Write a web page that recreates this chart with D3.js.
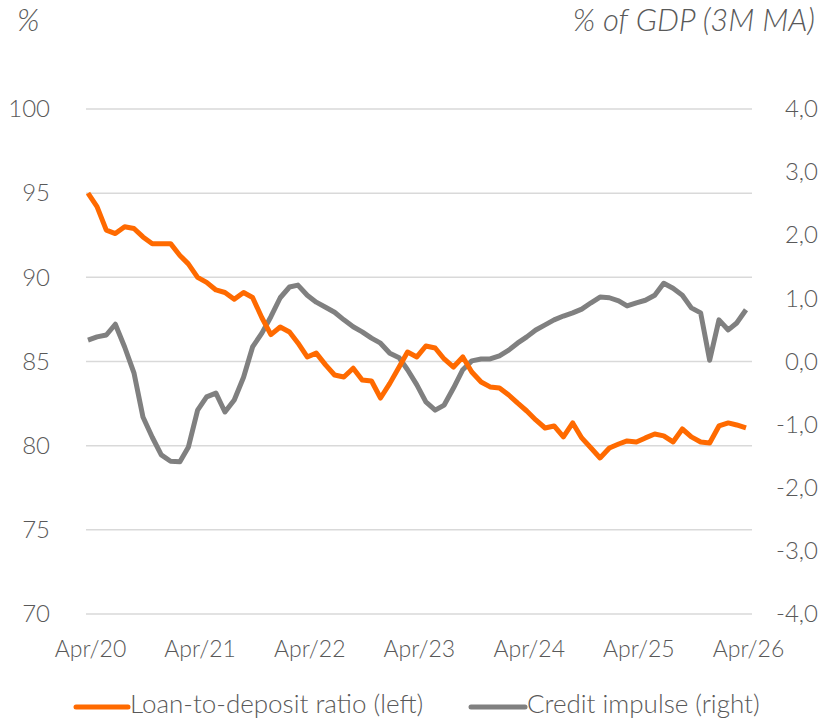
<!DOCTYPE html>
<html>
<head>
<meta charset="utf-8">
<script src="https://cdn.jsdelivr.net/npm/d3@7"></script>
<style>
  html, body { margin: 0; padding: 0; background: #ffffff; }
  svg { display: block; }
  text { font-family: Lato, "Open Sans", sans-serif; font-weight: 300; fill: #595959; }
</style>
</head>
<body>
<svg id="chart" width="825" height="719"></svg>
<script>
// ---- data ----
const startMonth = "2020-04";           // first observation (Apr/20), monthly
const loanToDeposit = [
  95.0, 94.2, 92.8, 92.6, 93.0, 92.9, 92.4, 92.0, 92.0, 92.0,
  91.3, 90.8, 90.0, 89.7, 89.25, 89.1, 88.7, 89.1, 88.8, 87.6,
  86.6, 87.05, 86.75, 86.1, 85.27, 85.5, 84.8, 84.2, 84.08, 84.6,
  83.9, 83.84, 82.83, 83.7, 84.67, 85.56, 85.27, 85.92, 85.8, 85.15,
  84.67, 85.27, 84.38, 83.78, 83.49, 83.43, 83.01, 82.54, 82.06, 81.53,
  81.05, 81.17, 80.52, 81.35, 80.46, 79.86, 79.27, 79.86, 80.1, 80.28,
  80.22, 80.46, 80.69, 80.58, 80.22, 80.99, 80.52, 80.22, 80.16, 81.17,
  81.35, 81.23, 81.05
];
const creditImpulse = [
  0.34, 0.39, 0.42, 0.59, 0.23, -0.18, -0.88, -1.20, -1.48, -1.58,
  -1.59, -1.36, -0.77, -0.56, -0.50, -0.80, -0.61, -0.25, 0.23, 0.45,
  0.71, 1.01, 1.18, 1.21, 1.05, 0.94, 0.86, 0.78, 0.66, 0.55,
  0.47, 0.37, 0.29, 0.13, 0.06, -0.13, -0.37, -0.64, -0.77, -0.69,
  -0.42, -0.13, 0.01, 0.04, 0.04, 0.09, 0.18, 0.29, 0.39, 0.50,
  0.58, 0.66, 0.72, 0.77, 0.83, 0.93, 1.02, 1.01, 0.96, 0.88,
  0.93, 0.97, 1.05, 1.24, 1.16, 1.05, 0.85, 0.77, 0.02, 0.66,
  0.50, 0.61, 0.82
];
const leftTicks = [70, 75, 80, 85, 90, 95, 100];
const rightTicks = [-4, -3, -2, -1, 0, 1, 2, 3, 4];
const xTickLabels = ["Apr/20", "Apr/21", "Apr/22", "Apr/23", "Apr/24", "Apr/25", "Apr/26"];
const leftTitle = "%";
const rightTitle = "% of GDP (3M MA)";
const seriesNames = ["Loan-to-deposit ratio (left)", "Credit impulse (right)"];
const colors = ["#ff6a00", "#808080"];

// ---- scales ----
const svg = d3.select("#chart");
const parse = d3.timeParse("%Y-%m");
const t0 = parse(startMonth);
const dates = loanToDeposit.map((_, i) => d3.timeMonth.offset(t0, i));
const tickDates = xTickLabels.map((_, i) => d3.timeMonth.offset(t0, 12 * i));

const x = d3.scaleTime().domain([t0, d3.timeMonth.offset(t0, 72)]).range([88, 746]);
const yL = d3.scaleLinear().domain([70, 100]).range([614, 109]);
const yR = d3.scaleLinear().domain([-4, 4]).range([614, 109]);

// gridlines
svg.append("g").selectAll("line").data(leftTicks).join("line")
  .attr("x1", 86).attr("x2", 752)
  .attr("y1", d => yL(d)).attr("y2", d => yL(d))
  .attr("stroke", "#d9d9d9").attr("stroke-width", 1.5);

function styleAxisText(sel, size) {
  sel.select(".domain").remove();
  sel.selectAll("text").attr("font-size", size).attr("fill", "#595959")
    .style("font-family", "Lato, 'Open Sans', sans-serif").style("font-weight", 300);
}

// left axis
const axL = svg.append("g").attr("transform", "translate(50,0)")
  .call(d3.axisLeft(yL).tickValues(leftTicks).tickSize(0).tickPadding(0).tickFormat(d3.format("d")));
styleAxisText(axL, 24);

// right axis
const fmtR = d => d3.format(".1f")(d).replace(".", ",").replace("\u2212", "-");
const axR = svg.append("g").attr("transform", "translate(818,0)")
  .call(d3.axisLeft(yR).tickValues(rightTicks).tickSize(0).tickPadding(0).tickFormat(fmtR));
styleAxisText(axR, 24);

// x axis
const axX = svg.append("g").attr("transform", "translate(2,641)")
  .call(d3.axisBottom(x).tickValues(tickDates).tickSize(0).tickPadding(0)
    .tickFormat((d, i) => xTickLabels[i]));
styleAxisText(axX, 23);

// titles
svg.append("text").attr("x", 17).attr("y", 31).attr("font-size", 31)
  .attr("font-style", "italic").text(leftTitle);
svg.append("text").attr("x", 815).attr("y", 31).attr("font-size", 31)
  .attr("font-style", "italic").attr("text-anchor", "end").text(rightTitle);

// lines
const lineL = d3.line().x((d, i) => x(dates[i])).y(d => yL(d));
const lineR = d3.line().x((d, i) => x(dates[i])).y(d => yR(d));
svg.append("path").datum(creditImpulse).attr("d", lineR)
  .attr("fill", "none").attr("stroke", colors[1]).attr("stroke-width", 5)
  .attr("stroke-linejoin", "round");
svg.append("path").datum(loanToDeposit).attr("d", lineL)
  .attr("fill", "none").attr("stroke", colors[0]).attr("stroke-width", 5)
  .attr("stroke-linejoin", "round");

// legend
const legendItems = [
  { name: seriesNames[0], color: colors[0], x0: 76, x1: 128, tx: 130 },
  { name: seriesNames[1], color: colors[1], x0: 471, x1: 525, tx: 527 }
];
const lg = svg.append("g");
legendItems.forEach(it => {
  lg.append("line").attr("x1", it.x0).attr("x2", it.x1).attr("y1", 707).attr("y2", 707)
    .attr("stroke", it.color).attr("stroke-width", 5).attr("stroke-linecap", "round");
  lg.append("text").attr("x", it.tx).attr("y", 713).attr("font-size", 26).text(it.name);
});
</script>
</body>
</html>
